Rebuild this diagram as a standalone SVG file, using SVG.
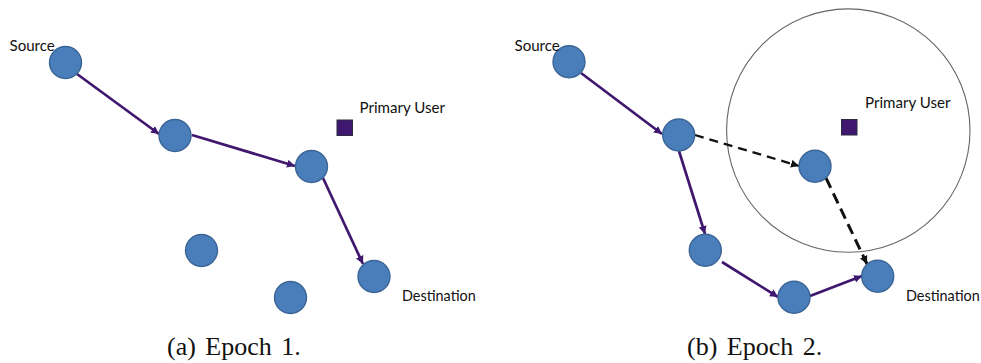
<svg xmlns="http://www.w3.org/2000/svg" width="981" height="363" viewBox="0 0 981 363">
<style>
.n{fill:#4a7ebb;stroke:#3a6595;stroke-width:1.4}
.pu{fill:#40176f;stroke:#2a2a40;stroke-width:1}
.l{font-family:Lato,"Open Sans","Liberation Sans",sans-serif;font-size:15.1px;fill:#111}
.s{font-size:14.4px}
.c{font-family:"Liberation Serif",serif;font-size:26px;fill:#111;word-spacing:3px}
.a{fill:none;stroke:#40176f;stroke-width:2.7;marker-end:url(#ap)}
.d{fill:none;stroke:#111;stroke-width:2.3;stroke-dasharray:9 6;marker-end:url(#ak)}
.t{stroke-width:3;stroke-dasharray:11 6}
</style>
<defs>
<marker id="ap" markerUnits="userSpaceOnUse" markerWidth="9" markerHeight="9" refX="8" refY="4.5" orient="auto"><path d="M0 0.5L8 4.5L0 8.5Z" fill="#40176f"/></marker>
<marker id="ak" markerUnits="userSpaceOnUse" markerWidth="9" markerHeight="9" refX="8" refY="4.5" orient="auto"><path d="M0 0.5L8 4.5L0 8.5Z" fill="#111"/></marker>
</defs>
<g id="range"><circle cx="848.3" cy="130.6" r="121.7" fill="none" stroke="#666" stroke-width="1.1"/></g>
<g id="connectors">
<path class="a" d="M77 74L159 134"/>
<path class="a" d="M192 135L295 166"/>
<path class="a" d="M323 178L363 264"/>
<path class="a" d="M581 73L662 134"/>
<path class="a" d="M679 151L705 234"/>
<path class="a" d="M722 262L778 297"/>
<path class="a" d="M810 296L862 276"/>
<path class="d" d="M695 135L799 166"/>
<path class="d t" d="M826 178L867 264"/>
</g>
<g id="a-source"><circle class="n" cx="65.5" cy="62.5" r="16"/><text class="l" x="9.5" y="51">Source</text></g>
<g id="a-n1"><circle class="n" cx="175" cy="135.5" r="16"/></g>
<g id="a-n2"><circle class="n" cx="311.5" cy="166.5" r="16"/></g>
<g id="a-n3"><circle class="n" cx="201.5" cy="250.5" r="16"/></g>
<g id="a-n4"><circle class="n" cx="290.5" cy="297.5" r="16"/></g>
<g id="a-dest"><circle class="n" cx="374" cy="276.5" r="16"/><text class="l s" x="402" y="301">Destination</text></g>
<g id="a-pu"><rect class="pu" x="337" y="120" width="15.5" height="15.5"/><text class="l" x="359.5" y="112.5">Primary User</text></g>
<g id="b-source"><circle class="n" cx="569" cy="61.7" r="16"/><text class="l" x="514.5" y="50.5">Source</text></g>
<g id="b-n1"><circle class="n" cx="678.7" cy="135" r="16"/></g>
<g id="b-n2"><circle class="n" cx="815" cy="166.3" r="16"/></g>
<g id="b-n3"><circle class="n" cx="705.3" cy="250.3" r="16"/></g>
<g id="b-n4"><circle class="n" cx="794" cy="297.3" r="16"/></g>
<g id="b-dest"><circle class="n" cx="877.7" cy="276.3" r="16"/><text class="l s" x="906" y="301">Destination</text></g>
<g id="b-pu"><rect class="pu" x="841.5" y="119.5" width="15.5" height="15.5"/><text class="l" x="865" y="107.5">Primary User</text></g>
<text class="c" x="167" y="355">(a) Epoch 1.</text>
<text class="c" x="687" y="354.5">(b) Epoch 2.</text>
</svg>
